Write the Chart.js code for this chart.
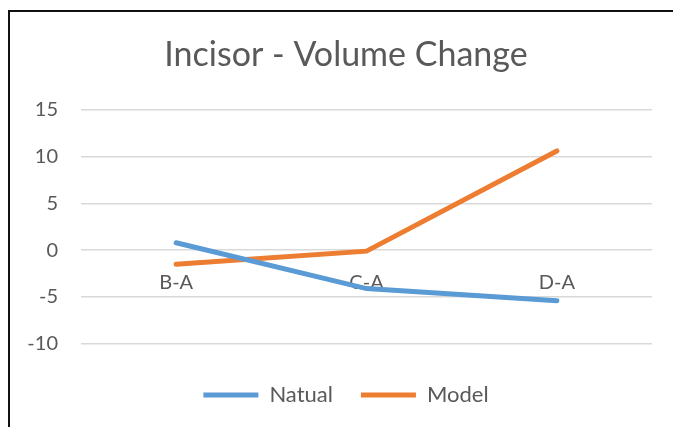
<!DOCTYPE html>
<html>
<head>
<meta charset="utf-8">
<script src="https://cdn.jsdelivr.net/npm/chart.js@4"></script>
<style>
  html, body { margin: 0; background: #fff; overflow: hidden; }
  #wrap { position: relative; width: 673px; height: 427px; overflow: hidden; }
  #frame { position: absolute; left: 8px; top: 10px; width: 665px; height: 417px; border-left: 2px solid #111; border-top: 2px solid #111; box-sizing: border-box; }
  #chart { position: absolute; left: 0; top: 0; }
</style>
</head>
<body>
<div id="wrap">
  <div id="frame"></div>
  <canvas id="chart" width="673" height="427"></canvas>
</div>
<script>
// data
var categories = ['B-A', 'C-A', 'D-A'];
var natual = [0.8, -4.1, -5.4];
var model = [-1.5, -0.1, 10.6];
var yTicks = [-10, -5, 0, 5, 10, 15];

var grey = '#595959';
var font = 'Lato, "Open Sans", sans-serif';

// the y axis box is kept narrow so title/legend centre like the original;
// widen its clip area after layout so the tick labels are not cut off
var unclipY = {
  id: 'unclipY',
  afterLayout: function (chart) {
    chart.scales.y.left = 0;
  }
};

var ctx = document.getElementById('chart').getContext('2d');
var chart = new Chart(ctx, {
  type: 'line',
  data: {
    labels: categories,
    datasets: [{
      label: 'Natual',
      data: natual,
      borderColor: '#5B9BD5',
      backgroundColor: '#5B9BD5',
      borderWidth: 5,
      borderCapStyle: 'round',
      pointRadius: 0,
      tension: 0
    }, {
      label: 'Model',
      data: model,
      borderColor: '#ED7D31',
      backgroundColor: '#ED7D31',
      borderWidth: 5,
      borderCapStyle: 'round',
      pointRadius: 0,
      tension: 0
    }]
  },
  options: {
    responsive: false,
    animation: false,
    layout: { padding: { left: 40, right: 21, top: 25, bottom: 11 } },
    plugins: {
      title: {
        display: true,
        text: 'Incisor - Volume Change',
        color: grey,
        font: { family: font, size: 34, weight: 'normal' },
        padding: { top: 10, bottom: 34 }
      },
      legend: {
        position: 'bottom',
        // empty title only used as a spacer above the items
        title: { display: true, text: ' ', font: { size: 1 }, padding: { top: 11, bottom: 0 } },
        labels: {
          usePointStyle: true,
          pointStyle: 'line',
          pointStyleWidth: 55,
          color: grey,
          font: { family: font, size: 22 },
          padding: 28
        }
      },
      tooltip: { enabled: false }
    },
    scales: {
      x: {
        position: { y: 0 },
        offset: true,
        grid: { display: false, drawTicks: false },
        border: { display: false },
        ticks: { color: grey, font: { family: font, size: 20 }, padding: 20 }
      },
      y: {
        min: -10,
        max: 15,
        afterBuildTicks: function (axis) {
          axis.ticks = yTicks.map(function (v) { return { value: v }; });
        },
        afterFit: function (axis) { axis.width = 41; },
        grid: { color: '#d9d9d9', lineWidth: 1.5, drawTicks: false },
        border: { display: false },
        ticks: { color: grey, font: { family: font, size: 20 }, padding: 23 }
      }
    }
  },
  plugins: [unclipY]
});
</script>
</body>
</html>
